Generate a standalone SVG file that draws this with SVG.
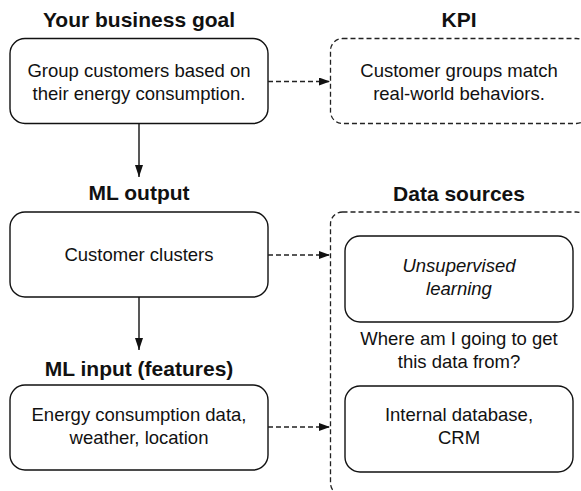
<svg xmlns="http://www.w3.org/2000/svg" width="581" height="491" viewBox="0 0 581 491">
<defs>
<marker id="ah" markerWidth="11" markerHeight="8" refX="11" refY="4" orient="auto" markerUnits="userSpaceOnUse">
<path d="M0,0 L11,4 L0,8 Z" fill="#111"/>
</marker>
<marker id="av" markerWidth="8" markerHeight="12" refX="4" refY="12" orient="0" markerUnits="userSpaceOnUse">
<path d="M0,0 L8,0 L4,12 Z" fill="#111"/>
</marker>
<style>
.box{fill:#fff;stroke:#111;stroke-width:1.4}
.dbox{fill:none;stroke:#222;stroke-width:1.3;stroke-dasharray:5 3}
.t{font-family:"Liberation Sans",Arial,sans-serif;font-size:18.5px;fill:#111;text-anchor:middle}
.h{font-family:"Liberation Sans",Arial,sans-serif;font-size:21px;font-weight:bold;fill:#111;text-anchor:middle}
.solid{stroke:#111;stroke-width:1.4;fill:none}
.dash{stroke:#222;stroke-width:1.3;fill:none;stroke-dasharray:5 3}
</style>
</defs>
<g id="goal">
<text class="h" x="139" y="27">Your business goal</text>
<rect class="box" x="10" y="38.5" width="258" height="85" rx="15"/>
<text class="t" x="139" y="77">Group customers based on</text>
<text class="t" x="139" y="100">their energy consumption.</text>
</g>
<g id="kpi">
<text class="h" x="459" y="27">KPI</text>
<rect class="dbox" x="330.5" y="38.5" width="258" height="85" rx="12"/>
<text class="t" x="459" y="77">Customer groups match</text>
<text class="t" x="459" y="100">real-world behaviors.</text>
</g>
<g id="mloutput">
<text class="h" x="139" y="200">ML output</text>
<rect class="box" x="10" y="212" width="258" height="85" rx="15"/>
<text class="t" x="139" y="261">Customer clusters</text>
</g>
<g id="mlinput">
<text class="h" x="139" y="376">ML input (features)</text>
<rect class="box" x="10" y="385" width="258" height="85" rx="15"/>
<text class="t" x="139" y="421">Energy consumption data,</text>
<text class="t" x="139" y="444">weather, location</text>
</g>
<g id="datasources">
<text class="h" x="459" y="201">Data sources</text>
<rect class="dbox" x="330.5" y="212" width="258" height="283" rx="12"/>
<text class="t" x="459" y="345">Where am I going to get</text>
<text class="t" x="459" y="368">this data from?</text>
</g>
<g id="unsupervised">
<rect class="box" x="345" y="236" width="228" height="86" rx="15"/>
<text class="t" x="459" y="272" font-style="italic">Unsupervised</text>
<text class="t" x="459" y="295" font-style="italic">learning</text>
</g>
<g id="internal">
<rect class="box" x="345" y="386" width="228" height="86" rx="15"/>
<text class="t" x="459" y="421">Internal database,</text>
<text class="t" x="459" y="444">CRM</text>
</g>
<g id="connectors">
<line class="solid" x1="139" y1="123.5" x2="139" y2="177" marker-end="url(#av)"/>
<line class="solid" x1="139" y1="297" x2="139" y2="350" marker-end="url(#av)"/>
<line class="dash" x1="268" y1="81.5" x2="330" y2="81.5" marker-end="url(#ah)"/>
<line class="dash" x1="268" y1="255" x2="330" y2="255" marker-end="url(#ah)"/>
<line class="dash" x1="268" y1="427" x2="330" y2="427" marker-end="url(#ah)"/>
</g>
</svg>
